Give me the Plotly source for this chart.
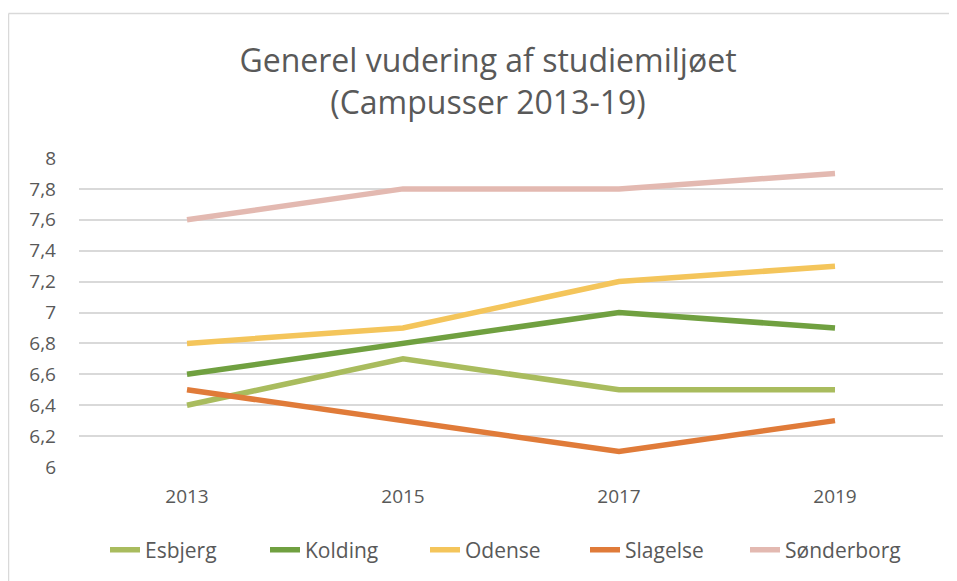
import plotly.graph_objects as go

years = ["2013", "2015", "2017", "2019"]
esbjerg = [6.4, 6.7, 6.5, 6.5]
kolding = [6.6, 6.8, 7.0, 6.9]
odense = [6.8, 6.9, 7.2, 7.3]
slagelse = [6.5, 6.3, 6.1, 6.3]
sonderborg = [7.6, 7.8, 7.8, 7.9]
names = ["Esbjerg", "Kolding", "Odense", "Slagelse", "Sønderborg"]
colors = ["#A9BC5E", "#70A040", "#F4C55B", "#E07B39", "#E3B9B1"]
y_ticks = [6, 6.2, 6.4, 6.6, 6.8, 7, 7.2, 7.4, 7.6, 7.8, 8]
y_tick_labels = ["6", "6,2", "6,4", "6,6", "6,8", "7", "7,2", "7,4", "7,6", "7,8", "8"]

series = [esbjerg, kolding, odense, slagelse, sonderborg]
fig = go.Figure()
for name, vals, col in zip(names, series, colors):
    fig.add_trace(go.Scatter(x=years, y=vals, name=name, mode="lines",
                             line=dict(color=col, width=5.5)))

FONT = "Open Sans"
W, H = 949, 573
L, T = 71, 150
PW, PH = 864, 309
fig.update_layout(
    width=W, height=H,
    margin=dict(l=L, r=W - L - PW, t=T, b=H - T - PH, autoexpand=False),
    paper_bgcolor="white", plot_bgcolor="white",
    font=dict(family=FONT, color="#595959", size=19),
    title=dict(text="Generel vudering af studiemiljøet<br>(Campusser 2013-19)",
               x=480 / W, xanchor="center", y=1 - 64 / H, yanchor="middle",
               yref="container",
               font=dict(family=FONT, size=32, color="#595959")),
    xaxis=dict(type="category", range=[-0.5, 3.5], showgrid=False, zeroline=False,
               showline=False, ticks="", tickfont=dict(size=19), ticklabelstandoff=16),
    yaxis=dict(range=[6, 8], tickvals=y_ticks, ticktext=y_tick_labels,
               showgrid=True, gridcolor="#D9D9D9", gridwidth=1.5, zeroline=False,
               showline=False, ticks="", tickfont=dict(size=19), ticklabelstandoff=22),
    legend=dict(orientation="h", x=26 / PW, xanchor="left", y=-83 / PH, yanchor="middle",
                font=dict(size=21), entrywidth=115, entrywidthmode="pixels",
                traceorder="normal"),
    hovermode=False,
    showlegend=True,
)

bx = (0.5 - L) / PW
by = (T + PH - 5.5) / PH
fig.add_shape(type="line", xref="paper", yref="paper", x0=bx, y0=by, x1=1.2, y1=by,
              line=dict(color="#D9D9D9", width=1.5))
fig.add_shape(type="line", xref="paper", yref="paper", x0=bx, y0=by, x1=bx, y1=-0.6,
              line=dict(color="#D9D9D9", width=1.5))

fig.write_html("out.html")
